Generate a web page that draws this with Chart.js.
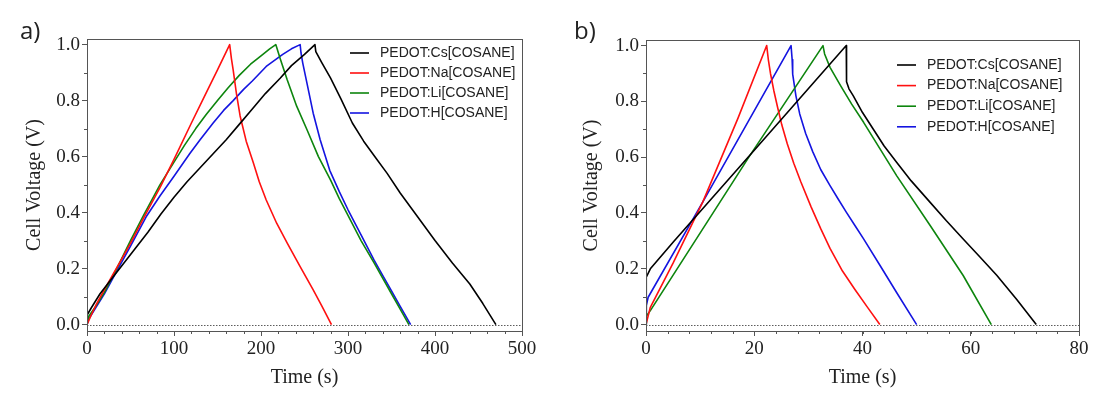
<!DOCTYPE html>
<html>
<head>
<meta charset="utf-8">
<script src="https://cdn.jsdelivr.net/npm/chart.js@4.4.1/dist/chart.umd.min.js"></script>
<style>
body{margin:0;background:#fff;width:1093px;height:394px;overflow:hidden;position:relative}
.pan{position:absolute;top:0;height:394px}
#pa{left:0;width:546px}
#pb{left:546px;width:547px}
.tag{position:absolute;top:13px;font-family:"Open Sans",sans-serif;font-size:24px;color:#222}
</style>
</head>
<body>
<div class="pan" id="pa"><canvas id="ca"></canvas></div>
<div class="pan" id="pb"><canvas id="cb"></canvas></div>
<div class="tag" style="left:20px">a)</div>
<div class="tag" style="left:574px">b)</div>
<script>
// series names + colours
var names = ['PEDOT:Cs[COSANE]', 'PEDOT:Na[COSANE]', 'PEDOT:Li[COSANE]', 'PEDOT:H[COSANE]'];
var colors = ['#000000', '#ff1010', '#0d850d', '#1414e0'];

// panel a) time (s) / voltage (V)
var tCsA = [0, 0.3, 5, 15, 25, 40, 55, 70, 85, 100, 115, 130, 145, 160, 175, 190, 205, 222, 235, 250, 262,
	263, 270, 280, 292, 305, 318, 332, 345, 360, 380, 400, 420, 440, 455, 470];
var vCsA = [0, 0.035, 0.06, 0.11, 0.15, 0.21, 0.27, 0.33, 0.395, 0.455, 0.51, 0.56, 0.61, 0.66, 0.715, 0.77, 0.825, 0.88, 0.925, 0.965, 1.0,
	0.975, 0.935, 0.88, 0.805, 0.72, 0.655, 0.595, 0.54, 0.47, 0.385, 0.30, 0.22, 0.145, 0.075, 0];
var tNaA = [0, 5, 11, 20, 30, 40, 50, 65, 84, 100, 120, 135, 150, 164,
	166, 168, 172, 176, 183, 191, 198, 206, 218, 230, 245, 260, 270, 281];
var vNaA = [0, 0.035, 0.074, 0.125, 0.18, 0.235, 0.29, 0.38, 0.49, 0.59, 0.72, 0.815, 0.91, 1.0,
	0.95, 0.91, 0.82, 0.745, 0.655, 0.58, 0.51, 0.445, 0.362, 0.292, 0.207, 0.124, 0.066, 0];
var tLiA = [0, 2, 10, 20, 35, 50, 65, 84, 100, 112, 125, 137, 150, 162, 175, 188, 200, 210, 217,
	222, 230, 241, 253, 266, 280, 290, 300, 315, 330, 340, 350, 360, 370];
var vLiA = [0, 0.03, 0.065, 0.115, 0.205, 0.30, 0.39, 0.50, 0.58, 0.64, 0.70, 0.75, 0.80, 0.845, 0.89, 0.93, 0.96, 0.985, 1.0,
	0.95, 0.875, 0.78, 0.695, 0.60, 0.516, 0.45, 0.39, 0.30, 0.22, 0.165, 0.11, 0.055, 0];
var tHA = [0, 2, 10, 20, 35, 50, 68, 84, 100, 118, 130, 145, 157, 168, 180, 190, 206, 225, 235, 245,
	246, 248, 253, 260, 268, 279, 290, 300, 315, 330, 340, 350, 360, 372];
var vHA = [0, 0.02, 0.06, 0.11, 0.195, 0.28, 0.385, 0.46, 0.53, 0.61, 0.66, 0.72, 0.765, 0.80, 0.84, 0.87, 0.922, 0.965, 0.985, 1.0,
	0.97, 0.934, 0.86, 0.755, 0.66, 0.551, 0.475, 0.41, 0.32, 0.23, 0.175, 0.12, 0.065, 0];

// panel b)
var tCsB = [0, 0.05, 0.8, 5, 20, 37,
	37.05, 37.5, 38.3, 40, 42, 44, 46.3, 49, 52.5, 55.5, 58.6, 61.7, 64.8, 68.5, 72.1];
var vCsB = [0, 0.17, 0.2, 0.295, 0.625, 1.0,
	0.87, 0.845, 0.82, 0.76, 0.70, 0.64, 0.582, 0.515, 0.438, 0.372, 0.307, 0.242, 0.177, 0.09, 0];
var tNaB = [0, 0.8, 5, 10.5, 17, 22.3,
	22.6, 23, 23.6, 24.3, 25.1, 26.1, 27.3, 28.6, 30.5, 32.3, 34, 36.3, 38.6, 41, 43.2];
var vNaB = [0, 0.062, 0.22, 0.44, 0.74, 1.0,
	0.95, 0.9, 0.84, 0.78, 0.715, 0.648, 0.578, 0.512, 0.422, 0.343, 0.273, 0.192, 0.126, 0.06, 0];
var tLiB = [0, 0.05, 0.8, 19, 32.7,
	33, 34, 36, 38, 40.2, 46.3, 52.5, 58.6, 63.8];
var vLiB = [0, 0.03, 0.05, 0.6, 1.0,
	0.97, 0.922, 0.855, 0.79, 0.725, 0.534, 0.355, 0.176, 0];
var tHB = [0, 0.05, 0.4, 10.5, 26.8,
	27.0, 27.1, 27.7, 28.4, 29.5, 30.8, 32.3, 34, 35.5, 37, 38.6, 40.2, 43.3, 46.3, 50];
var vHB = [0, 0.068, 0.098, 0.44, 1.0,
	0.95, 0.898, 0.82, 0.755, 0.685, 0.62, 0.555, 0.498, 0.45, 0.403, 0.355, 0.307, 0.21, 0.115, 0];

// ticks
var yTicks = [0, 0.2, 0.4, 0.6, 0.8, 1.0];
var xTicksA = [0, 100, 200, 300, 400, 500];
var xTicksB = [0, 20, 40, 60, 80];

function pts(t, v) {
	var out = [];
	for (var i = 0; i < t.length; i++) out.push({x: t[i], y: v[i]});
	return out;
}

function sets(list) {
	return list.map(function (s, i) {
		return {
			label: names[i],
			data: pts(s[0], s[1]),
			borderColor: colors[i],
			backgroundColor: colors[i],
			borderWidth: 1.6,
			borderJoinStyle: 'round',
			pointRadius: 0,
			tension: 0,
			fill: false
		};
	});
}

// frame, minor ticks, dotted zero line, legend
var panelPlugin = {
	id: 'panel',
	beforeDatasetsDraw: function (chart) {
		var ctx = chart.ctx, a = chart.chartArea;
		var y0 = chart.scales.y.getPixelForValue(0);
		ctx.save();
		ctx.strokeStyle = '#333';
		ctx.lineWidth = 0.8;
		ctx.setLineDash([1.5, 1.5]);
		ctx.beginPath();
		ctx.moveTo(a.left, Math.round(y0) + 0.5);
		ctx.lineTo(a.right, Math.round(y0) + 0.5);
		ctx.stroke();
		ctx.restore();
	},
	afterDatasetsDraw: function (chart, args, o) {
		var ctx = chart.ctx, a = chart.chartArea;
		var xs = chart.scales.x, ys = chart.scales.y;
		ctx.save();
		ctx.strokeStyle = '#555';
		ctx.lineWidth = 1;
		ctx.strokeRect(Math.round(a.left) + 0.5, Math.round(a.top) + 0.5, Math.round(a.right - a.left), Math.round(a.bottom - a.top));
		// minor ticks
		ctx.beginPath();
		for (var x = xs.min; x <= xs.max; x += o.xMinor) {
			var px = Math.round(xs.getPixelForValue(x)) + 0.5;
			ctx.moveTo(px, a.bottom);
			ctx.lineTo(px, a.bottom + 3);
		}
		for (var k = 1; k < 10; k += 2) {
			var py = Math.round(ys.getPixelForValue(k / 10)) + 0.5;
			ctx.moveTo(a.left, py);
			ctx.lineTo(a.left - 3, py);
		}
		ctx.stroke();
		// legend
		ctx.font = '14px "Liberation Sans", Arial, sans-serif';
		ctx.textBaseline = 'middle';
		ctx.fillStyle = '#222';
		chart.data.datasets.forEach(function (d, i) {
			var y = o.ly + i * o.dy;
			ctx.strokeStyle = d.borderColor;
			ctx.lineWidth = 1.6;
			ctx.beginPath();
			ctx.moveTo(o.lx, y);
			ctx.lineTo(o.lx + 19, y);
			ctx.stroke();
			ctx.fillText(d.label, o.lx + 30, y);
		});
		ctx.restore();
	}
};

function makeChart(id, datasets, xMax, xTicks, xMinor, yw, pad, titlePad, leg) {
	return new Chart(document.getElementById(id), {
		type: 'line',
		data: {datasets: datasets},
		plugins: [panelPlugin],
		options: {
			responsive: true,
			maintainAspectRatio: false,
			animation: false,
			layout: {padding: pad},
			plugins: {
				legend: {display: false},
				tooltip: {enabled: false},
				panel: {xMinor: xMinor, lx: leg[0], ly: leg[1], dy: leg[2]}
			},
			scales: {
				x: {
					type: 'linear',
					min: 0,
					max: xMax,
					afterFit: function (s) { s.height = 63; },
					afterBuildTicks: function (s) { s.ticks = xTicks.map(function (v) { return {value: v}; }); },
					border: {display: false},
					grid: {drawOnChartArea: false, tickLength: 5, color: '#555'},
					ticks: {padding: 2, color: '#222', maxRotation: 0, font: {family: 'Liberation Serif', size: 19}},
					title: {display: true, text: 'Time (s)', color: '#222', padding: {top: 0, bottom: 4}, font: {family: 'Liberation Serif', size: 20}}
				},
				y: {
					min: -0.023,
					max: 1.02,
					afterFit: function (s) { s.width = yw; },
					afterBuildTicks: function (s) { s.ticks = yTicks.map(function (v) { return {value: v}; }); },
					border: {display: false},
					grid: {drawOnChartArea: false, tickLength: 5, color: '#555'},
					ticks: {padding: 2, color: '#222', callback: function (v) { return v.toFixed(1); }, font: {family: 'Liberation Serif', size: 19}},
					title: {display: true, text: 'Cell Voltage (V)', color: '#222', padding: {top: titlePad, bottom: 0}, font: {family: 'Liberation Serif', size: 20}}
				}
			}
		}
	});
}

makeChart('ca', sets([[tCsA, vCsA], [tNaA, vNaA], [tLiA, vLiA], [tHA, vHA]]), 500, xTicksA, 20, 87,
	{top: 39, right: 24, left: 0, bottom: 0}, 23, [350, 53, 20]);
makeChart('cb', sets([[tCsB, vCsB], [tNaB, vNaB], [tLiB, vLiB], [tHB, vHB]]), 80, xTicksB, 4, 100,
	{top: 40, right: 14, left: 0, bottom: 0}, 34, [351, 65, 20.6]);
</script>
</body>
</html>
